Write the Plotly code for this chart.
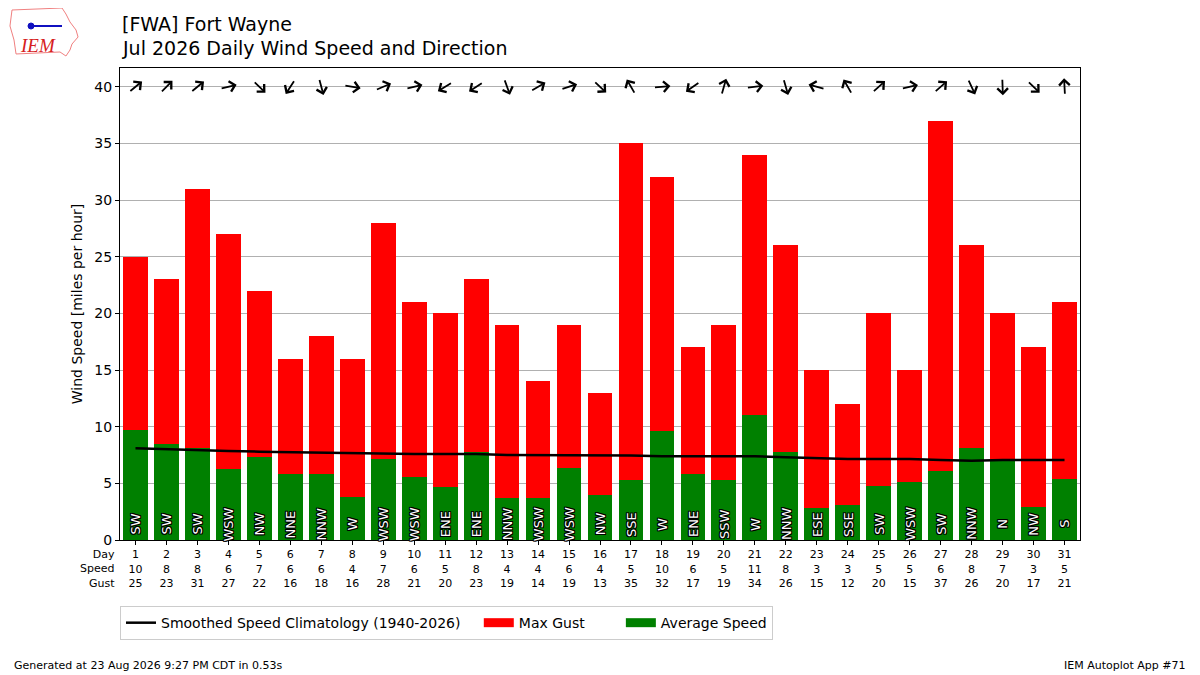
import math
import plotly.graph_objects as go

days = list(range(1, 32))
avg_speed = [9.7, 8.5, 8.1, 6.25, 7.3, 5.85, 5.85, 3.8, 7.15, 5.55, 4.65, 7.8, 3.75, 3.75, 6.35,
             3.95, 5.3, 9.6, 5.85, 5.3, 11.0, 7.8, 2.85, 3.05, 4.8, 5.15, 6.1, 8.15, 7.1, 2.9, 5.35]
max_gust = [25, 23, 31, 27, 22, 16, 18, 16, 28, 21, 20, 23, 19, 14, 19, 13, 35, 32, 17, 19, 34,
            26, 15, 12, 20, 15, 37, 26, 20, 17, 21]
speed_round = [10, 8, 8, 6, 7, 6, 6, 4, 7, 6, 5, 8, 4, 4, 6, 4, 5, 10, 6, 5, 11, 8, 3, 3, 5, 5, 6,
               8, 7, 3, 5]
climo = [8.1, 8.0, 7.9, 7.85, 7.8, 7.75, 7.7, 7.65, 7.6, 7.6, 7.6, 7.6, 7.5, 7.5, 7.5, 7.45,
         7.45, 7.4, 7.4, 7.4, 7.4, 7.3, 7.2, 7.15, 7.15, 7.15, 7.05, 7.0, 7.05, 7.05, 7.05]
dir_text = ["SW", "SW", "SW", "WSW", "NW", "NNE", "NNW", "W", "WSW", "WSW", "ENE", "ENE", "NNW",
            "WSW", "WSW", "NW", "SSE", "W", "ENE", "SSW", "W", "NNW", "ESE", "SSE", "SW", "WSW",
            "SW", "NNW", "N", "NW", "S"]
dir_deg = [231, 225, 231, 256, 314, 33, 345, 280, 247, 256, 59, 57, 340, 240, 252, 313, 150, 265,
           55, 196, 263, 344, 105, 150, 228, 257, 229, 335, 358, 314, 177]

ARROW_Y = 40
LABEL_Y = 1.4
L = 17

fig = go.Figure()
fig.add_trace(go.Bar(x=days, y=max_gust, name="Max Gust", marker=dict(color="#ff0000", line=dict(width=0)),
                     width=0.8, showlegend=False))
fig.add_trace(go.Bar(x=days, y=avg_speed, name="Average Speed", marker=dict(color="#008000", line=dict(width=0)),
                     width=0.8, showlegend=False))
fig.add_trace(go.Scatter(x=days, y=climo, mode="lines",
                         name="Smoothed Speed Climatology (1940-2026)&nbsp;&nbsp;&nbsp;",
                         line=dict(color="black", width=2.5), legendrank=1))
# legend-only entries drawn as wide patches
fig.add_trace(go.Scatter(x=[None], y=[None], mode="lines",
                         name="Max Gust&nbsp;&nbsp;&nbsp;&nbsp;&nbsp;&nbsp;&nbsp;",
                         line=dict(color="#ff0000", width=9), legendrank=2))
fig.add_trace(go.Scatter(x=[None], y=[None], mode="lines", name="Average Speed",
                         line=dict(color="#008000", width=9), legendrank=3))

annotations = []
outline_offsets = [(-1, 0), (1, 0), (0, -1), (0, 1), (-1, -1), (1, 1), (-1, 1), (1, -1)]
for d, deg, txt in zip(days, dir_deg, dir_text):
    b = math.radians((deg + 180) % 360)
    annotations.append(dict(
        x=d, y=ARROW_Y, xref="x", yref="y", text="", showarrow=True,
        arrowhead=4, arrowsize=1.15, arrowwidth=1.8, arrowcolor="black", standoff=0,
        ax=-L * math.sin(b), ay=L * math.cos(b), axref="pixel", ayref="pixel",
        xshift=L / 2 * math.sin(b), yshift=L / 2 * math.cos(b)))
    for ox, oy in outline_offsets:
        annotations.append(dict(
            x=d, y=LABEL_Y, xref="x", yref="y", text=txt, showarrow=False, textangle=-90,
            yanchor="middle", xanchor="center", xshift=ox, yshift=oy,
            font=dict(family="DejaVu Sans", size=13, color="black")))
    annotations.append(dict(
        x=d, y=LABEL_Y, xref="x", yref="y", text=txt, showarrow=False, textangle=-90,
        yanchor="middle", xanchor="center",
        font=dict(family="DejaVu Sans", size=13, color="white")))


def px(x):
    return (x - 120) / 960.0


def py(y):
    return (540 - y) / 472.0


iowa = [(12, 10), (62, 8), (66, 14), (70, 22), (76, 30), (78, 37), (72, 44), (70, 50), (66, 56),
        (60, 52), (16, 54), (14, 40), (10, 26), (12, 10)]
iowa_path = "M " + " L ".join(f"{px(a):.4f},{py(b):.4f}" for a, b in iowa) + " Z"

annotations += [
    dict(xref="paper", yref="paper", x=0, y=1.093, text="[FWA] Fort Wayne", showarrow=False,
         xanchor="left", yanchor="middle", font=dict(size=19, color="black")),
    dict(xref="paper", yref="paper", x=0, y=1.042, text="Jul 2026 Daily Wind Speed and Direction",
         showarrow=False, xanchor="left", yanchor="middle", font=dict(size=19, color="black")),
    dict(xref="paper", yref="paper", x=0, y=0, xshift=-3, yshift=-6, text="Day<br>Speed<br>Gust",
         showarrow=False, xanchor="right", yanchor="top", align="right",
         font=dict(size=11, color="black")),
    dict(xref="paper", yref="paper", x=-0.1125, y=-0.265, text="Generated at 23 Aug 2026 9:27 PM CDT in 0.53s",
         showarrow=False, xanchor="left", yanchor="middle", font=dict(size=11, color="black")),
    dict(xref="paper", yref="paper", x=1.1125, y=-0.265, text="IEM Autoplot App #71",
         showarrow=False, xanchor="right", yanchor="middle", font=dict(size=11, color="black")),
    dict(xref="paper", yref="paper", x=px(38), y=py(45), text="<i>IEM</i>", showarrow=False,
         xanchor="center", yanchor="middle",
         font=dict(family="Liberation Serif", size=19, color="#d62020")),
]

shapes = [
    dict(type="path", xref="paper", yref="paper", path=iowa_path,
         line=dict(color="#f08080", width=1), fillcolor="rgba(0,0,0,0)", layer="above"),
    dict(type="line", xref="paper", yref="paper", x0=px(28), y0=py(26), x1=px(62), y1=py(26),
         line=dict(color="#1010c0", width=2)),
    dict(type="circle", xref="paper", yref="paper", x0=px(28), y0=py(29), x1=px(34), y1=py(23),
         line=dict(color="#1010c0", width=1), fillcolor="#1010c0"),
]

ticktext = [f"{d}<br>{s}<br>{g}" for d, s, g in zip(days, speed_round, max_gust)]

fig.update_layout(
    width=1192, height=667,
    margin=dict(l=112, r=120, t=60, b=135),
    paper_bgcolor="white", plot_bgcolor="white",
    font=dict(family="DejaVu Sans", color="black"),
    barmode="overlay",
    bargap=0,
    showlegend=True,
    legend=dict(orientation="h", x=0, xanchor="left", y=-0.14, yanchor="top",
                bordercolor="#cccccc", borderwidth=1, font=dict(size=14),
                traceorder="normal", itemwidth=30),
    annotations=annotations,
    shapes=shapes,
    xaxis=dict(range=[0.5, 31.5], tickvals=days, ticktext=ticktext, tickfont=dict(size=11),
               ticks="outside", ticklen=4, tickcolor="black", showgrid=False,
               showline=True, linecolor="black", linewidth=1, mirror=True, zeroline=False),
    yaxis=dict(range=[0, 41.66], tickvals=[0, 5, 10, 15, 20, 25, 30, 35, 40], tickfont=dict(size=14),
               ticks="outside", ticklen=4, tickcolor="black", showgrid=True, gridcolor="#b0b0b0",
               gridwidth=1, showline=True, linecolor="black", linewidth=1, mirror=True,
               zeroline=False,
               title=dict(text="Wind Speed [miles per hour]", font=dict(size=14), standoff=8)),
)

fig.write_html("out.html")
